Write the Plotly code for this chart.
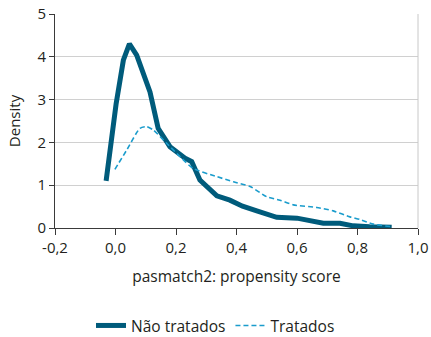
import plotly.graph_objects as go

# Não tratados (untreated) density
x_nt = [-0.031, 0.002, 0.026, 0.046, 0.070, 0.092, 0.114, 0.141, 0.180, 0.230, 0.252,
        0.279, 0.335, 0.378, 0.420, 0.467, 0.533, 0.600, 0.687, 0.742, 0.786, 0.840, 0.913]
y_nt = [1.10, 2.90, 3.92, 4.30, 4.04, 3.61, 3.18, 2.33, 1.90, 1.63, 1.55,
        1.12, 0.75, 0.65, 0.51, 0.40, 0.25, 0.23, 0.11, 0.11, 0.05, 0.03, 0.02]

# Tratados (treated) density
x_t = [-0.002, 0.037, 0.081, 0.103, 0.125, 0.169, 0.213, 0.257, 0.335, 0.390, 0.445,
       0.500, 0.544, 0.588, 0.665, 0.720, 0.775, 0.808, 0.852, 0.913]
y_t = [1.37, 1.82, 2.33, 2.37, 2.29, 1.98, 1.67, 1.39, 1.20, 1.08, 0.97,
       0.73, 0.65, 0.54, 0.48, 0.40, 0.26, 0.20, 0.09, 0.03]

x_ticks = [-0.2, 0.0, 0.2, 0.4, 0.6, 0.8, 1.0]
x_ticklabels = ["-0,2", "0,0", "0,2", "0,4", "0,6", "0,8", "1,0"]
y_ticks = [0, 1, 2, 3, 4, 5]

fig = go.Figure()
fig.add_trace(go.Scatter(x=x_nt, y=y_nt, mode="lines", name="Não tratados",
                         line=dict(color="#005b7b", width=5)))
fig.add_trace(go.Scatter(x=x_t, y=y_t, mode="lines", name="Tratados",
                         line=dict(color="#1a9ccc", width=1.6, dash="5px,3px",
                                   shape="spline", smoothing=0.6)))

fig.update_layout(
    width=431, height=337,
    margin=dict(l=55, r=13, t=14, b=109, autoexpand=False),
    paper_bgcolor="white", plot_bgcolor="white",
    font=dict(family="Open Sans, Noto Sans, sans-serif", size=15, color="#231f20"),
    showlegend=True,
    legend=dict(orientation="h", x=0.5, xanchor="center", xref="container",
                y=0.033, yanchor="middle", yref="container",
                font=dict(size=15.5), itemwidth=30, tracegroupgap=0),
)
fig.update_xaxes(range=[-0.2, 1.0], tickvals=x_ticks, ticktext=x_ticklabels,
                 automargin=False,
                 showgrid=False, showline=True, linecolor="#3a3a3a", linewidth=1,
                 ticks="outside", ticklen=6, tickcolor="#3a3a3a",
                 tickfont=dict(size=15), zeroline=False,
                 title=dict(text="pasmatch2: propensity score", font=dict(size=15.5), standoff=15))
fig.update_yaxes(range=[0, 5], tickvals=y_ticks, automargin=False,
                 showgrid=True, gridcolor="#d0d0d0", gridwidth=1,
                 showline=True, linecolor="#3a3a3a", linewidth=1,
                 ticks="outside", ticklen=5, tickcolor="#3a3a3a",
                 tickfont=dict(size=15), zeroline=False,
                 title=dict(text="Density", font=dict(size=15), standoff=13))
fig.add_shape(type="line", xref="paper", yref="paper", x0=1, x1=1, y0=0, y1=1,
              line=dict(color="#c8c8c8", width=1))

fig.write_html("out.html", config={"displayModeBar": False},
               post_script="document.body.style.margin='0';document.body.style.overflow='hidden';")
